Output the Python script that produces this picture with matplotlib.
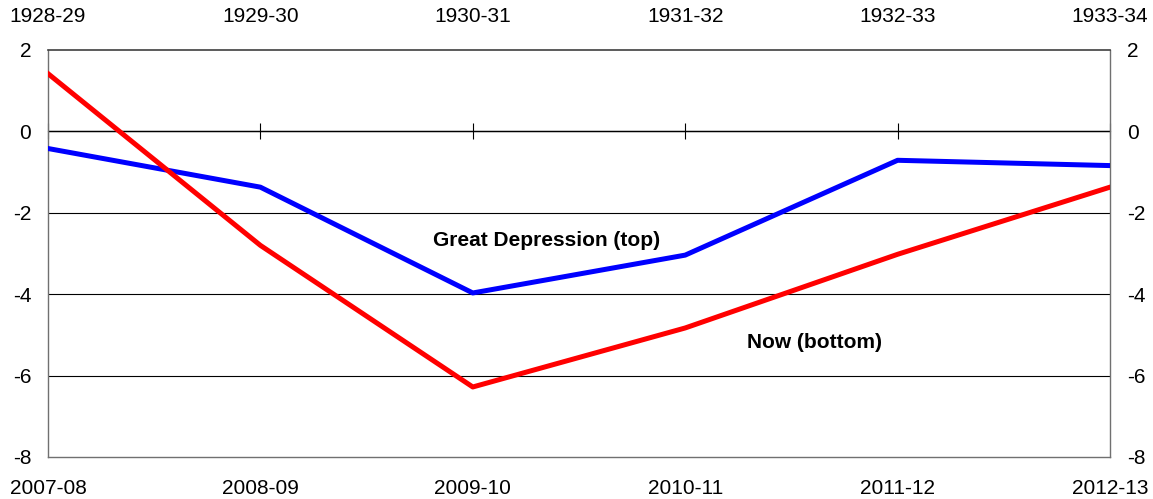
import matplotlib.pyplot as plt

plt.rcParams['font.family'] = ['Liberation Sans', 'DejaVu Sans']
plt.rcParams['axes.unicode_minus'] = False

years_now = ['2007-08', '2008-09', '2009-10', '2010-11', '2011-12', '2012-13']
years_gd = ['1928-29', '1929-30', '1930-31', '1931-32', '1932-33', '1933-34']
great_depression = [-0.42, -1.37, -3.97, -3.04, -0.71, -0.84]
now = [1.42, -2.80, -6.28, -4.83, -3.02, -1.37]
y_ticks = [2, 0, -2, -4, -6, -8]

x = list(range(len(years_now)))

fig = plt.figure(figsize=(11.53, 4.99), dpi=100)
ax = fig.add_axes([0.0416, 0.0842, 0.9211, 0.8156])

# gridlines
for v in [-2, -4, -6]:
    ax.axhline(v, color='black', lw=0.8, zorder=1)
ax.axhline(0, color='black', lw=1.0, zorder=1)

ax.plot(x, great_depression, color='#0000ff', lw=3.6, zorder=3)
ax.plot(x, now, color='#ff0000', lw=3.6, zorder=3)

ax.set_xlim(0, 5)
ax.set_ylim(-8, 2)
ax.set_yticks(y_ticks)
ax.set_xticks(x)
ax.set_xticklabels(years_now)
ax.tick_params(axis='x', length=0, pad=15.5, labelsize=15)
ax.tick_params(axis='y', length=0, pad=12, labelsize=15, labelright=True, right=False)

# top axis with the Depression years
top = ax.secondary_xaxis('top')
top.set_xticks(x)
top.set_xticklabels(years_gd)
top.tick_params(length=0, pad=17, labelsize=15)
top.spines['top'].set_visible(False)

# tick marks on the zero line
zero = ax.secondary_xaxis(0.8)
zero.set_xticks(x)
zero.set_xticklabels([])
zero.tick_params(direction='inout', length=11, width=0.8, color='black')
zero.spines['bottom'].set_visible(False)

for s in ['left', 'right', 'bottom']:
    ax.spines[s].set_color('#707070')
    ax.spines[s].set_linewidth(1)
ax.spines['top'].set_color('#404040')
ax.spines['top'].set_linewidth(1.2)

ax.text(1.815, -2.69, 'Great Depression (top)', fontsize=15, fontweight='bold', va='center')
ax.text(3.293, -5.19, 'Now (bottom)', fontsize=15, fontweight='bold', va='center')

fig.savefig('out.png', dpi=100)
